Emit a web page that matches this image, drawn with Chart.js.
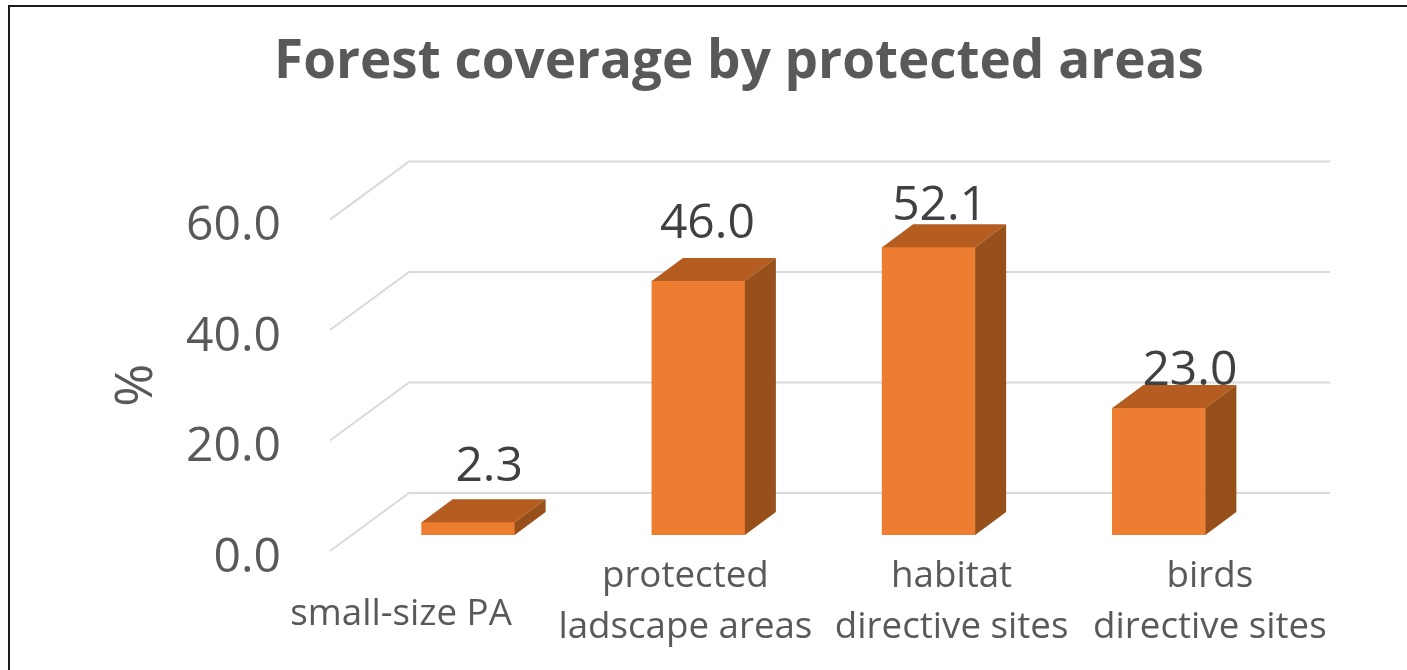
<!DOCTYPE html>
<html>
<head>
<meta charset="utf-8">
<title>Forest coverage by protected areas</title>
<script src="https://cdn.jsdelivr.net/npm/chart.js@4"></script>
<style>
    html, body { margin: 0; padding: 0; background: #fff; overflow: hidden; }
    #moldura { position: absolute; left: 8px; top: 5px; width: 1399px; height: 665px; border-top: 2px solid #1a1a1a; border-left: 2px solid #1a1a1a; box-sizing: border-box; }
    #grafico { position: absolute; left: 0; top: 0; }
</style>
</head>
<body>
<canvas id="grafico" width="1407" height="670"></canvas>
<div id="moldura"></div>
<script>
//Dados
const categorias = [["small-size PA"], ["protected", "ladscape areas"], ["habitat", "directive sites"], ["birds", "directive sites"]];
const valores = [2.3, 46.0, 52.1, 23.0];
const marcasY = [0, 20, 40, 60];

//Deslocamentos manuais dos rótulos (como no original)
const ajusteCategoria = [-67, -13, 23, 51];
const linhaCategoria = [615, 577, 577, 577];
const ajusteValorX = [21, 9, 11, 31];
const ajusteValorY = [41, 43, 27, 23];

const FONTE = '"Open Sans", sans-serif';
const PROF_X = 31, PROF_Y = 23;     //profundidade da barra
const FUNDO_X = 56, FUNDO_Y = 42;   //parede do fundo
const CHAO_X = 23, CHAO_Y = 16;     //frente do chão

//Centraliza o título como no original (fica à direita do centro da página)
const tituloDeslocado = {
    id: "tituloDeslocado",
    afterLayout(chart) {
        chart.titleBlock.left = 204;
    }
};

//Desenha a grade em perspectiva, atrás das barras
const grade3d = {
    id: "grade3d",
    beforeDatasetsDraw(chart) {
        const { ctx, chartArea, scales } = chart;
        ctx.save();
        ctx.strokeStyle = "#d9d9d9";
        ctx.lineWidth = 2;
        marcasY.forEach(v => {
            const y = scales.y.getPixelForValue(v);
            ctx.beginPath();
            ctx.moveTo(chartArea.left - CHAO_X, y + CHAO_Y);
            ctx.lineTo(chartArea.left + FUNDO_X, y - FUNDO_Y);
            ctx.lineTo(chartArea.right + FUNDO_X, y - FUNDO_Y);
            ctx.stroke();
        });
        ctx.restore();
    }
};

//Faces de cima e lateral das barras, e os rótulos
const barras3d = {
    id: "barras3d",
    afterDatasetsDraw(chart) {
        const { ctx, scales } = chart;
        const barras = chart.getDatasetMeta(0).data;
        ctx.save();
        barras.forEach(b => {
            const esq = b.x - b.width / 2, dir = b.x + b.width / 2;
            ctx.fillStyle = "#B55D20";
            ctx.beginPath();
            ctx.moveTo(esq, b.y);
            ctx.lineTo(esq + PROF_X, b.y - PROF_Y);
            ctx.lineTo(dir + PROF_X, b.y - PROF_Y);
            ctx.lineTo(dir, b.y);
            ctx.closePath();
            ctx.fill();
            ctx.fillStyle = "#98501B";
            ctx.beginPath();
            ctx.moveTo(dir, b.y);
            ctx.lineTo(dir + PROF_X, b.y - PROF_Y);
            ctx.lineTo(dir + PROF_X, b.base - PROF_Y);
            ctx.lineTo(dir, b.base);
            ctx.closePath();
            ctx.fill();
        });

        //Valores
        ctx.textAlign = "center";
        ctx.textBaseline = "alphabetic";
        ctx.fillStyle = "#404040";
        ctx.font = "48px " + FONTE;
        barras.forEach((b, i) => {
            ctx.fillText(valores[i].toFixed(1), b.x + ajusteValorX[i], b.y - ajusteValorY[i]);
        });

        //Categorias
        ctx.fillStyle = "#595959";
        ctx.font = "36.7px " + FONTE;
        ctx.textBaseline = "middle";
        categorias.forEach((linhas, i) => {
            const x = scales.x.getPixelForTick(i) + ajusteCategoria[i];
            linhas.forEach((txt, j) => {
                ctx.fillText(txt, x, linhaCategoria[i] + j * 51);
            });
        });

        //Título do eixo y, abaixo do centro do eixo
        ctx.font = "52px " + FONTE;
        ctx.translate(137, scales.y.getPixelForValue(30) + 16);
        ctx.rotate(-Math.PI / 2);
        ctx.fillText("%", 0, 0);
        ctx.restore();
    }
};

new Chart(document.getElementById("grafico").getContext("2d"), {
    type: "bar",
    data: {
        labels: categorias,
        datasets: [{
            label: "%",
            data: valores,
            backgroundColor: "#ED7D31",
            borderWidth: 0,
            barThickness: 93
        }]
    },
    options: {
        responsive: false,
        animation: false,
        layout: { padding: { left: 100, right: 133, top: 0, bottom: 0 } },
        plugins: {
            legend: { display: false },
            tooltip: { enabled: false },
            title: {
                display: true,
                text: "Forest coverage by protected areas",
                color: "#595959",
                font: { family: FONTE, size: 53, weight: "bold" },
                padding: { top: 31, bottom: 109 }
            }
        },
        scales: {
            x: {
                grid: { display: false },
                border: { display: false },
                ticks: { display: false },
                afterFit(escala) { escala.height = 135; }
            },
            y: {
                min: 0,
                max: 60,
                grid: { display: false, drawTicks: false },
                border: { display: false },
                ticks: {
                    stepSize: 20,
                    color: "#595959",
                    font: { family: FONTE, size: 48 },
                    padding: 72,
                    labelOffset: 23,
                    callback: v => v.toFixed(1)
                },
                afterFit(escala) { escala.width = 253; }
            }
        }
    },
    plugins: [tituloDeslocado, grade3d, barras3d]
});
</script>
</body>
</html>
